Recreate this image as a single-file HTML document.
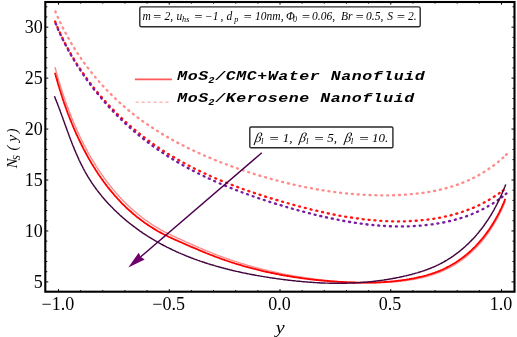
<!DOCTYPE html>
<html><head><meta charset="utf-8"><style>
html,body{margin:0;padding:0;background:#fff;}
body{width:517px;height:337px;overflow:hidden;}
svg{display:block;}
.ser{font-family:"Liberation Serif","DejaVu Serif",serif;}
.it{font-style:italic;}
.mono{font-family:"Liberation Mono","DejaVu Sans Mono",monospace;font-weight:bold;font-style:italic;}
</style></head><body>
<svg width="517" height="337" viewBox="0 0 517 337">
<rect width="517" height="337" fill="#fff"/>
<g fill="none" stroke-linecap="round">
<path d="M55.4 11.4L55.7 12.4M57.7 16.9L58.1 17.8M60.1 22.2L60.6 23.1M62.7 27.5L63.2 28.4M65.4 32.8L65.9 33.7M68.3 37.9L68.8 38.8M71.2 43.1L71.7 43.9M74.3 48.1L74.8 49.0M77.4 53.1L78.0 53.9M80.7 58.0L81.3 58.8M84.1 62.8L84.7 63.6M87.6 67.5L88.3 68.3M91.3 72.2L91.9 73.0M95.0 76.8L95.6 77.5M98.8 81.3L99.5 82.0M102.7 85.7L103.4 86.4M106.8 90.0L107.4 90.7M110.9 94.2L111.6 94.9M115.1 98.3L115.8 99.0M119.4 102.4L120.2 103.0M123.8 106.3L124.6 106.9M128.3 110.1L129.1 110.7M132.9 113.8L133.7 114.4M137.6 117.4L138.4 118.0M142.3 120.9L143.2 121.5M147.2 124.3L148.0 124.9M152.1 127.6L152.9 128.1M157.0 130.8L157.9 131.3M162.0 133.9L162.9 134.4M167.1 136.9L168.0 137.4M172.2 139.8L173.1 140.3M177.4 142.6L178.3 143.1M182.7 145.3L183.6 145.8M187.9 148.0L188.8 148.4M193.3 150.5L194.2 151.0M198.6 153.0L199.5 153.4M204.0 155.4L204.9 155.8M209.4 157.7L210.4 158.1M214.9 160.0L215.8 160.3M220.4 162.1L221.3 162.5M225.9 164.2L226.8 164.6M231.4 166.3L232.4 166.6M237.0 168.2L237.9 168.6M242.6 170.2L243.5 170.5M248.2 172.0L249.1 172.3M253.8 173.8L254.7 174.1M259.4 175.5L260.4 175.8M265.1 177.2L266.1 177.5M270.8 178.8L271.7 179.1M276.5 180.4L277.4 180.6M282.2 181.9L283.1 182.1M287.9 183.3L288.9 183.5M293.6 184.6L294.6 184.8M299.4 185.9L300.4 186.1M305.2 187.1L306.2 187.3M311.0 188.2L311.9 188.4M316.8 189.3L317.8 189.5M322.6 190.3L323.6 190.4M328.4 191.2L329.4 191.3M334.3 192.0L335.3 192.1M340.1 192.7L341.1 192.8M346.0 193.4L347.0 193.5M351.9 193.9L352.9 194.0M357.7 194.4L358.7 194.5M363.6 194.8L364.6 194.8M369.5 195.0L370.5 195.1M375.4 195.2L376.4 195.3M381.3 195.3L382.3 195.3M387.2 195.3L388.2 195.3M393.1 195.2L394.1 195.2M399.0 195.0L400.0 195.0M404.9 194.7L405.9 194.6M410.8 194.2L411.8 194.1M416.7 193.6L417.6 193.5M422.5 192.9L423.5 192.8M428.3 192.0L429.3 191.9M434.1 191.0L435.1 190.8M439.9 189.7L440.9 189.5M445.6 188.3L446.6 188.0M451.3 186.7L452.3 186.4M456.9 184.8L457.9 184.5M462.4 182.8L463.4 182.4M467.9 180.5L468.8 180.1M473.2 178.0L474.1 177.6M478.5 175.3L479.3 174.8M483.6 172.3L484.4 171.8M488.5 169.1L489.3 168.6M493.3 165.7L494.1 165.1M498.0 162.1L498.8 161.4M502.5 158.2L503.2 157.6M506.1 154.9L506.8 154.2" stroke="#ff8c8c" stroke-width="2.35"/>
<path d="M55.1 21.5L55.5 22.4M57.4 27.0L57.8 27.9M59.8 32.4L60.2 33.3M62.3 37.7L62.7 38.6M64.9 43.0L65.4 43.9M67.7 48.2L68.2 49.1M70.5 53.3L71.0 54.2M73.5 58.4L74.0 59.3M76.6 63.5L77.1 64.3M79.8 68.4L80.4 69.3M83.1 73.3L83.7 74.1M86.5 78.1L87.1 78.9M90.0 82.9L90.6 83.7M93.6 87.6L94.2 88.3M97.3 92.1L98.0 92.9M101.1 96.7L101.8 97.4M105.0 101.1L105.7 101.8M109.0 105.4L109.7 106.2M113.1 109.7L113.8 110.4M117.2 113.9L117.9 114.6M121.5 118.0L122.2 118.7M125.8 122.0L126.5 122.7M130.2 125.9L131.0 126.6M134.7 129.8L135.5 130.4M139.3 133.5L140.0 134.1M143.9 137.1L144.7 137.8M148.6 140.7L149.4 141.3M153.4 144.1L154.2 144.7M158.3 147.5L159.1 148.0M163.2 150.7L164.0 151.3M168.2 153.9L169.0 154.4M173.2 156.9L174.1 157.4M178.3 159.9L179.2 160.4M183.5 162.8L184.4 163.2M188.7 165.5L189.6 166.0M193.9 168.2L194.8 168.7M199.2 170.8L200.1 171.3M204.6 173.4L205.5 173.8M209.9 175.8L210.8 176.2M215.3 178.2L216.2 178.6M220.8 180.5L221.7 180.9M226.2 182.7L227.2 183.1M231.7 184.9L232.7 185.2M237.2 186.9L238.2 187.3M242.8 189.0L243.7 189.3M248.3 190.9L249.3 191.3M253.9 192.8L254.9 193.2M259.5 194.7L260.5 195.0M265.1 196.5L266.1 196.8M270.8 198.3L271.7 198.5M276.4 200.0L277.4 200.2M282.1 201.6L283.0 201.9M287.8 203.2L288.7 203.5M293.4 204.8L294.4 205.1M299.1 206.4L300.1 206.6M304.8 207.9L305.8 208.1M310.6 209.3L311.5 209.6M316.3 210.7L317.3 210.9M322.1 212.0L323.0 212.2M327.8 213.3L328.8 213.5M333.6 214.5L334.6 214.7M339.4 215.6L340.4 215.8M345.2 216.6L346.2 216.8M351.0 217.5L352.0 217.7M356.9 218.4L357.9 218.5M362.7 219.2L363.7 219.3M368.6 219.8L369.6 219.9M374.5 220.3L375.4 220.4M380.3 220.8L381.3 220.8M386.2 221.1L387.2 221.1M392.1 221.3L393.1 221.3M398.0 221.4L399.0 221.4M403.9 221.3L404.9 221.3M409.8 221.1L410.8 221.0M415.7 220.7L416.7 220.7M421.6 220.2L422.6 220.1M427.5 219.6L428.4 219.5M433.3 218.8L434.3 218.6M439.1 217.8L440.1 217.6M444.9 216.6L445.9 216.4M450.6 215.3L451.6 215.0M456.3 213.7L457.3 213.5M462.0 212.0L462.9 211.7M467.5 210.0L468.5 209.7M473.0 207.9L473.9 207.5M478.4 205.5L479.3 205.0M483.7 202.8L484.6 202.3M488.8 200.0L489.7 199.5M493.9 196.9L494.7 196.3M498.8 193.6L499.6 193.0M502.7 190.7L503.5 190.1" stroke="#ff1414" stroke-width="2.35"/>
<path d="M55.7 23.7L56.1 24.6M57.9 29.0L58.3 29.9M60.3 34.2L60.7 35.1M62.7 39.4L63.2 40.3M65.3 44.6L65.8 45.4M68.1 49.8L68.6 50.6M70.8 54.7L71.3 55.6M73.8 59.8L74.3 60.6M76.8 64.7L77.3 65.6M80.0 69.7L80.5 70.5M83.2 74.6L83.8 75.4M86.6 79.3L87.1 80.1M90.0 84.0L90.6 84.8M93.5 88.7L94.1 89.5M97.2 93.3L97.9 94.1M101.0 97.8L101.6 98.6M104.8 102.3L105.5 103.0M108.7 106.7L109.4 107.4M112.8 111.0L113.4 111.7M116.8 115.1L117.5 115.8M121.0 119.3L121.7 120.0M125.2 123.3L126.0 124.0M129.6 127.3L130.4 128.0M134.0 131.2L134.8 131.8M138.5 135.0L139.3 135.6M143.1 138.6L143.9 139.3M147.7 142.2L148.5 142.8M152.5 145.8L153.3 146.4M157.4 149.2L158.2 149.8M162.3 152.6L163.1 153.1M167.2 155.8L168.1 156.4M172.3 159.0L173.1 159.5M177.3 162.0L178.2 162.6M182.5 165.0L183.4 165.5M187.7 167.9L188.6 168.4M192.9 170.7L193.8 171.1M198.2 173.4L199.1 173.8M203.6 176.0L204.5 176.5M208.8 178.5L209.8 178.9M214.2 181.0L215.1 181.4M219.7 183.4L220.6 183.8M225.1 185.7L226.1 186.1M230.6 187.9L231.6 188.3M236.1 190.1L237.0 190.4M241.6 192.2L242.5 192.5M247.1 194.2L248.0 194.5M252.7 196.2L253.6 196.5M258.2 198.1L259.2 198.4M263.8 199.9L264.7 200.2M269.4 201.7L270.3 202.1M275.0 203.5L276.0 203.8M280.6 205.2L281.6 205.5M286.3 206.9L287.2 207.2M291.9 208.5L292.8 208.8M297.5 210.1L298.5 210.4M303.2 211.6L304.2 211.9M308.9 213.1L309.9 213.4M314.6 214.6L315.6 214.8M320.3 216.0L321.3 216.2M326.0 217.3L327.0 217.5M331.8 218.5L332.8 218.7M337.6 219.7L338.5 219.9M343.3 220.8L344.3 221.0M349.1 221.8L350.1 222.0M354.9 222.8L355.9 222.9M360.7 223.6L361.7 223.7M366.5 224.3L367.5 224.5M372.4 225.0L373.4 225.1M378.2 225.5L379.2 225.6M384.0 225.9L385.0 226.0M389.9 226.2L390.9 226.2M395.9 226.4L396.9 226.4M401.9 226.4L402.9 226.4M407.8 226.3L408.8 226.3M413.8 226.1L414.8 226.0M419.7 225.7L420.7 225.6M425.6 225.1L426.6 225.0M431.6 224.4L432.6 224.3M437.4 223.5L438.4 223.4M443.3 222.5L444.3 222.3M449.1 221.2L450.0 221.0M454.8 219.8L455.8 219.5M460.5 218.2L461.5 217.9M466.1 216.3L467.1 216.0M471.7 214.2L472.6 213.8M477.1 211.9L478.0 211.5M482.5 209.3L483.4 208.9M487.7 206.5L488.5 206.0M492.8 203.5L493.6 202.9M497.7 200.2L498.5 199.6M501.7 197.3L502.5 196.7M505.7 194.1L506.5 193.4" stroke="#7a1aa0" stroke-width="2.35"/>
<path d="M55.0 67.1L55.2 68.0L55.5 69.0L55.8 70.0L56.0 70.9L56.3 71.9L56.6 72.9L56.8 73.9L57.1 74.8L57.4 75.8L57.7 76.8L57.9 77.7L58.2 78.7L58.5 79.7L58.8 80.6L59.1 81.6L59.4 82.6L59.7 83.5L60.0 84.5L60.3 85.5L60.6 86.4L60.9 87.4L61.2 88.3L61.5 89.3L61.8 90.3L62.1 91.2L62.4 92.2L62.7 93.1L63.0 94.1L63.3 95.1L63.7 96.0L64.0 97.0L64.3 97.9L64.6 98.9L65.0 99.8L65.3 100.8L65.6 101.7L66.0 102.7L66.3 103.6L66.6 104.6L67.0 105.5L67.3 106.5L67.7 107.4L68.0 108.4L68.4 109.3L68.8 110.3L69.1 111.2L69.5 112.2L69.8 113.1L70.2 114.0L70.6 115.0L70.9 115.9L71.3 116.8L71.7 117.8L72.1 118.7L72.5 119.7L72.8 120.6L73.2 121.5L73.6 122.5L74.0 123.4L74.4 124.3L74.8 125.2L75.2 126.2L75.6 127.1L76.0 128.0L76.4 128.9L76.8 129.9L77.3 130.8L77.7 131.7L78.1 132.6L78.5 133.5L79.0 134.5L79.4 135.4L79.8 136.3L80.3 137.2L80.7 138.1L81.1 139.0L81.6 139.9L82.0 140.8L82.5 141.7L82.9 142.7L83.4 143.6L83.8 144.5L84.3 145.4L84.8 146.3L85.2 147.2L85.7 148.0L86.2 148.9L86.7 149.8L87.2 150.7L87.6 151.6L88.1 152.5L88.6 153.4L89.1 154.3L89.6 155.2L90.1 156.0L90.6 156.9L91.1 157.8L91.6 158.7L92.1 159.5L92.7 160.4L93.2 161.3L93.7 162.1L94.2 163.0L94.8 163.9L95.3 164.7L95.8 165.6L96.4 166.4L96.9 167.3L97.5 168.2L98.0 169.0L98.6 169.8L99.1 170.7L99.7 171.5L100.3 172.4L100.8 173.2L101.4 174.0L102.0 174.9L102.6 175.7L103.2 176.5L103.7 177.4L104.3 178.2L104.9 179.0L105.5 179.8L106.1 180.6L106.7 181.4L107.3 182.2L108.0 183.0L108.6 183.8L109.2 184.6L109.8 185.4L110.5 186.2L111.1 187.0L111.7 187.8L112.4 188.6L113.0 189.4L113.7 190.1L114.3 190.9L115.0 191.7L115.6 192.5L116.3 193.2L117.0 194.0L117.6 194.7L118.3 195.5L119.0 196.2L119.7 197.0L120.4 197.7L121.0 198.5L121.7 199.2L122.4 199.9L123.1 200.6L123.9 201.4L124.6 202.1L125.3 202.8L126.0 203.5L126.7 204.2L127.5 204.9L128.2 205.6L128.9 206.3L129.7 207.0L130.4 207.7L131.2 208.4L131.9 209.1L132.7 209.7L133.4 210.4L134.2 211.1L135.0 211.7L135.7 212.4L136.5 213.0L137.3 213.7L138.1 214.3L138.9 215.0L139.7 215.6L140.5 216.2L141.3 216.8L142.1 217.5L142.9 218.1L143.7 218.7L144.5 219.3L145.3 219.9L146.2 220.5L147.0 221.1L147.8 221.7L148.7 222.2L149.5 222.8L150.3 223.4L151.2 223.9L152.0 224.5L152.9 225.1L153.7 225.6L154.6 226.1L155.4 226.7L156.3 227.2L157.1 227.7L158.0 228.2L158.9 228.7L159.7 229.2L160.6 229.7L161.5 230.2L162.4 230.6L163.2 231.1L164.1 231.6L165.0 232.0L165.9 232.5L166.8 232.9L167.7 233.4L168.6 233.8L169.4 234.3L170.3 234.7L171.2 235.1L172.1 235.6L173.0 236.0L173.9 236.4L174.8 236.8L175.7 237.2L176.6 237.7L177.5 238.1L178.4 238.5L179.4 238.9L180.3 239.3L181.2 239.7L182.1 240.1L183.0 240.5L183.9 240.9L184.8 241.4L185.7 241.8L186.7 242.2L187.6 242.6L188.5 243.0L189.4 243.4L190.3 243.8L191.2 244.2L192.2 244.6L193.1 245.0L194.0 245.4L194.9 245.8L195.8 246.2L196.8 246.6L197.7 247.0L198.6 247.4L199.5 247.8L200.5 248.2L201.4 248.6L202.3 249.0L203.2 249.4L204.2 249.8L205.1 250.2L206.0 250.6L207.0 250.9L207.9 251.3L208.8 251.7L209.8 252.1L210.7 252.5L211.6 252.9L212.6 253.2L213.5 253.6L214.4 254.0L215.4 254.3L216.3 254.7L217.2 255.1L218.2 255.4L219.1 255.8L220.1 256.1L221.0 256.5L221.9 256.8L222.9 257.2L223.8 257.5L224.8 257.9L225.7 258.2L226.7 258.5L227.6 258.9L228.6 259.2L229.5 259.5L230.5 259.9L231.4 260.2L232.4 260.5L233.3 260.8L234.3 261.1L235.2 261.4L236.2 261.7L237.1 262.1L238.1 262.4L239.0 262.7L240.0 263.0L240.9 263.3L241.9 263.6L242.8 263.8L243.8 264.1L244.8 264.4L245.7 264.7L246.7 265.0L247.7 265.3L248.6 265.6L249.6 265.8L250.5 266.1L251.5 266.4L252.5 266.7L253.4 266.9L254.4 267.2L255.4 267.5L256.3 267.7L257.3 268.0L258.3 268.2L259.3 268.5L260.2 268.7L261.2 269.0L262.2 269.2L263.1 269.5L264.1 269.7L265.1 269.9L266.1 270.2L267.0 270.4L268.0 270.7L269.0 270.9L270.0 271.1L271.0 271.3L271.9 271.6L272.9 271.8L273.9 272.0L274.9 272.2L275.9 272.4L276.8 272.6L277.8 272.8L278.8 273.1L279.8 273.3L280.8 273.5L281.8 273.7L282.8 273.9L283.7 274.1L284.7 274.2L285.7 274.4L286.7 274.6L287.7 274.8L288.7 275.0L289.7 275.2L290.7 275.4L291.7 275.5L292.6 275.7L293.6 275.9L294.6 276.1L295.6 276.2L296.6 276.4L297.6 276.6L298.6 276.7L299.6 276.9L300.6 277.0L301.6 277.2L302.6 277.3L303.6 277.5L304.6 277.6L305.6 277.8L306.6 277.9L307.5 278.1L308.5 278.2L309.5 278.4L310.5 278.5L311.5 278.6L312.5 278.8L313.5 278.9L314.5 279.0L315.5 279.1L316.5 279.3L317.5 279.4L318.5 279.5L319.5 279.6L320.5 279.7L321.5 279.8L322.5 280.0L323.5 280.1L324.5 280.2L325.5 280.3L326.5 280.4L327.5 280.5L328.5 280.6L329.5 280.7L330.5 280.8L331.5 280.9L332.5 281.0L333.5 281.1L334.5 281.1L335.5 281.2L336.5 281.3L337.5 281.4L338.5 281.5L339.5 281.6L340.5 281.6L341.5 281.7L342.5 281.8L343.5 281.9L344.5 281.9L345.5 282.0L346.5 282.1L347.5 282.1L348.5 282.2L349.5 282.2L350.5 282.3L351.5 282.3L352.5 282.4L353.5 282.4L354.5 282.5L355.5 282.5L356.5 282.6L357.5 282.6L358.5 282.6L359.5 282.7L360.5 282.7L361.5 282.7L362.5 282.8L363.5 282.8L364.5 282.8L365.5 282.8L366.5 282.8L367.5 282.8L368.5 282.8L369.5 282.8L370.5 282.8L371.5 282.8L372.5 282.8L373.5 282.8L374.5 282.8L375.5 282.8L376.5 282.8L377.5 282.8L378.5 282.7L379.5 282.7L380.5 282.7L381.5 282.7L382.5 282.6L383.5 282.6L384.4 282.5L385.4 282.5L386.4 282.4L387.4 282.4L388.4 282.3L389.4 282.2L390.4 282.2L391.4 282.1L392.4 282.0L393.4 282.0L394.3 281.9L395.3 281.8L396.3 281.7L397.3 281.6L398.3 281.5L399.3 281.4L400.3 281.3L401.3 281.2L402.2 281.1L403.2 280.9L404.2 280.8L405.2 280.7L406.2 280.5L407.1 280.4L408.1 280.2L409.1 280.1L410.1 279.9L411.1 279.8L412.0 279.6L413.0 279.5L414.0 279.3L415.0 279.1L416.0 278.9L416.9 278.7L417.9 278.5L418.9 278.3L419.8 278.1L420.8 277.9L421.8 277.7L422.7 277.5L423.7 277.2L424.7 277.0L425.6 276.8L426.6 276.5L427.5 276.2L428.5 276.0L429.4 275.7L430.4 275.4L431.3 275.1L432.3 274.8L433.2 274.5L434.2 274.2L435.1 273.9L436.0 273.6L437.0 273.2L437.9 272.9L438.8 272.5L439.7 272.2L440.6 271.8L441.6 271.4L442.5 271.0L443.4 270.6L444.3 270.2L445.2 269.8L446.1 269.4L447.0 268.9L447.9 268.5L448.7 268.0L449.6 267.6L450.5 267.1L451.4 266.6L452.2 266.1L453.1 265.6L454.0 265.1L454.8 264.6L455.7 264.1L456.5 263.5L457.4 263.0L458.2 262.5L459.0 261.9L459.8 261.4L460.7 260.8L461.5 260.2L462.3 259.6L463.1 259.0L463.9 258.4L464.7 257.8L465.5 257.2L466.3 256.6L467.0 256.0L467.8 255.3L468.6 254.7L469.3 254.0L470.1 253.4L470.8 252.7L471.6 252.0L472.3 251.3L473.0 250.7L473.7 250.0L474.4 249.3L475.2 248.6L475.9 247.8L476.6 247.1L477.2 246.4L477.9 245.7L478.6 244.9L479.3 244.2L479.9 243.4L480.6 242.7L481.2 241.9L481.9 241.2L482.5 240.4L483.2 239.6L483.8 238.8L484.4 238.0L485.0 237.3L485.6 236.5L486.2 235.7L486.8 234.9L487.4 234.0L488.0 233.2L488.6 232.4L489.2 231.6L489.7 230.8L490.3 229.9L490.8 229.1L491.4 228.3L491.9 227.4L492.5 226.6L493.0 225.7L493.5 224.9L494.0 224.0L494.5 223.2L495.0 222.3L495.5 221.5L496.0 220.6L496.5 219.7L497.0 218.9L497.5 218.0L497.9 217.1L498.4 216.3L498.9 215.4L499.3 214.5L499.8 213.6L500.2 212.7L500.6 211.9L501.1 211.0L501.5 210.1L501.9 209.2L502.3 208.3L502.7 207.4L503.1 206.5L503.5 205.6L503.9 204.7L504.2 203.9L504.6 203.0L505.0 202.1L505.3 201.2" stroke="#ff8a8a" stroke-width="1.4" stroke-linecap="butt"/>
<path d="M55.0 72.8L55.2 73.8L55.5 74.8L55.8 75.7L56.0 76.7L56.3 77.7L56.6 78.6L56.8 79.6L57.1 80.5L57.4 81.5L57.7 82.5L57.9 83.4L58.2 84.4L58.5 85.3L58.8 86.3L59.1 87.3L59.4 88.2L59.7 89.2L60.0 90.1L60.3 91.1L60.6 92.0L60.9 93.0L61.2 93.9L61.5 94.9L61.8 95.8L62.1 96.8L62.4 97.7L62.7 98.7L63.0 99.6L63.3 100.6L63.7 101.5L64.0 102.5L64.3 103.4L64.6 104.4L65.0 105.3L65.3 106.2L65.6 107.2L66.0 108.1L66.3 109.1L66.6 110.0L67.0 110.9L67.3 111.9L67.7 112.8L68.0 113.8L68.4 114.7L68.8 115.6L69.1 116.6L69.5 117.5L69.8 118.4L70.2 119.3L70.6 120.3L70.9 121.2L71.3 122.1L71.7 123.0L72.1 124.0L72.5 124.9L72.8 125.8L73.2 126.7L73.6 127.7L74.0 128.6L74.4 129.5L74.8 130.4L75.2 131.3L75.6 132.2L76.0 133.1L76.4 134.1L76.8 135.0L77.3 135.9L77.7 136.8L78.1 137.7L78.5 138.6L79.0 139.5L79.4 140.4L79.8 141.3L80.3 142.2L80.7 143.1L81.1 144.0L81.6 144.9L82.0 145.8L82.5 146.7L82.9 147.6L83.4 148.5L83.8 149.4L84.3 150.2L84.8 151.1L85.2 152.0L85.7 152.9L86.2 153.8L86.7 154.7L87.2 155.5L87.6 156.4L88.1 157.3L88.6 158.2L89.1 159.0L89.6 159.9L90.1 160.8L90.6 161.6L91.1 162.5L91.6 163.4L92.1 164.2L92.7 165.1L93.2 165.9L93.7 166.8L94.2 167.6L94.8 168.5L95.3 169.3L95.8 170.2L96.4 171.0L96.9 171.8L97.5 172.7L98.0 173.5L98.6 174.4L99.1 175.2L99.7 176.0L100.3 176.8L100.8 177.7L101.4 178.5L102.0 179.3L102.6 180.1L103.2 180.9L103.7 181.7L104.3 182.5L104.9 183.3L105.5 184.1L106.1 184.9L106.7 185.7L107.3 186.5L108.0 187.3L108.6 188.1L109.2 188.9L109.8 189.6L110.5 190.4L111.1 191.2L111.7 192.0L112.4 192.7L113.0 193.5L113.7 194.2L114.3 195.0L115.0 195.8L115.6 196.5L116.3 197.2L117.0 198.0L117.6 198.7L118.3 199.5L119.0 200.2L119.7 200.9L120.4 201.6L121.0 202.4L121.7 203.1L122.4 203.8L123.1 204.5L123.9 205.2L124.6 205.9L125.3 206.6L126.0 207.3L126.7 208.0L127.5 208.7L128.2 209.3L128.9 210.0L129.7 210.7L130.4 211.3L131.2 212.0L131.9 212.7L132.7 213.3L133.4 214.0L134.2 214.6L135.0 215.3L135.7 215.9L136.5 216.5L137.3 217.2L138.1 217.8L138.9 218.4L139.7 219.0L140.5 219.6L141.3 220.2L142.1 220.8L142.9 221.4L143.7 222.0L144.5 222.6L145.3 223.2L146.2 223.7L147.0 224.3L147.8 224.9L148.7 225.4L149.5 226.0L150.3 226.5L151.2 227.0L152.0 227.6L152.9 228.1L153.7 228.6L154.6 229.1L155.4 229.7L156.3 230.2L157.1 230.7L158.0 231.2L158.9 231.7L159.7 232.1L160.6 232.6L161.5 233.1L162.4 233.5L163.2 234.0L164.1 234.5L165.0 234.9L165.9 235.4L166.8 235.8L167.7 236.2L168.6 236.7L169.4 237.1L170.3 237.5L171.2 237.9L172.1 238.4L173.0 238.8L173.9 239.2L174.8 239.6L175.7 240.0L176.6 240.4L177.5 240.8L178.4 241.2L179.4 241.6L180.3 242.0L181.2 242.4L182.1 242.8L183.0 243.2L183.9 243.6L184.8 244.0L185.7 244.4L186.7 244.8L187.6 245.2L188.5 245.6L189.4 246.0L190.3 246.4L191.2 246.8L192.2 247.2L193.1 247.6L194.0 247.9L194.9 248.3L195.8 248.7L196.8 249.1L197.7 249.5L198.6 249.9L199.5 250.3L200.5 250.7L201.4 251.1L202.3 251.4L203.2 251.8L204.2 252.2L205.1 252.6L206.0 253.0L207.0 253.3L207.9 253.7L208.8 254.1L209.8 254.5L210.7 254.8L211.6 255.2L212.6 255.5L213.5 255.9L214.4 256.3L215.4 256.6L216.3 257.0L217.2 257.3L218.2 257.7L219.1 258.0L220.1 258.4L221.0 258.7L221.9 259.1L222.9 259.4L223.8 259.7L224.8 260.1L225.7 260.4L226.7 260.7L227.6 261.0L228.6 261.3L229.5 261.7L230.5 262.0L231.4 262.3L232.4 262.6L233.3 262.9L234.3 263.2L235.2 263.5L236.2 263.8L237.1 264.1L238.1 264.4L239.0 264.7L240.0 265.0L240.9 265.2L241.9 265.5L242.8 265.8L243.8 266.1L244.8 266.4L245.7 266.6L246.7 266.9L247.7 267.2L248.6 267.4L249.6 267.7L250.5 267.9L251.5 268.2L252.5 268.4L253.4 268.7L254.4 269.0L255.4 269.2L256.3 269.4L257.3 269.7L258.3 269.9L259.3 270.2L260.2 270.4L261.2 270.6L262.2 270.9L263.1 271.1L264.1 271.3L265.1 271.5L266.1 271.8L267.0 272.0L268.0 272.2L269.0 272.4L270.0 272.6L271.0 272.8L271.9 273.0L272.9 273.2L273.9 273.4L274.9 273.6L275.9 273.8L276.8 274.0L277.8 274.2L278.8 274.4L279.8 274.6L280.8 274.8L281.8 275.0L282.8 275.1L283.7 275.3L284.7 275.5L285.7 275.7L286.7 275.8L287.7 276.0L288.7 276.2L289.7 276.3L290.7 276.5L291.7 276.7L292.6 276.8L293.6 277.0L294.6 277.1L295.6 277.3L296.6 277.4L297.6 277.6L298.6 277.7L299.6 277.9L300.6 278.0L301.6 278.2L302.6 278.3L303.6 278.4L304.6 278.6L305.6 278.7L306.6 278.8L307.5 278.9L308.5 279.1L309.5 279.2L310.5 279.3L311.5 279.4L312.5 279.5L313.5 279.7L314.5 279.8L315.5 279.9L316.5 280.0L317.5 280.1L318.5 280.2L319.5 280.3L320.5 280.4L321.5 280.5L322.5 280.6L323.5 280.7L324.5 280.8L325.5 280.9L326.5 280.9L327.5 281.0L328.5 281.1L329.5 281.2L330.5 281.3L331.5 281.3L332.5 281.4L333.5 281.5L334.5 281.6L335.5 281.6L336.5 281.7L337.5 281.8L338.5 281.8L339.5 281.9L340.5 281.9L341.5 282.0L342.5 282.0L343.5 282.1L344.5 282.2L345.5 282.2L346.5 282.2L347.5 282.3L348.5 282.3L349.5 282.4L350.5 282.4L351.5 282.4L352.5 282.5L353.5 282.5L354.5 282.5L355.5 282.6L356.5 282.6L357.5 282.6L358.5 282.6L359.5 282.6L360.5 282.6L361.5 282.6L362.5 282.7L363.5 282.7L364.5 282.7L365.5 282.7L366.5 282.6L367.5 282.6L368.5 282.6L369.5 282.6L370.5 282.6L371.5 282.6L372.5 282.6L373.5 282.5L374.5 282.5L375.5 282.5L376.5 282.4L377.5 282.4L378.5 282.3L379.5 282.3L380.5 282.2L381.5 282.2L382.5 282.1L383.5 282.1L384.4 282.0L385.4 281.9L386.4 281.9L387.4 281.8L388.4 281.7L389.4 281.6L390.4 281.6L391.4 281.5L392.4 281.4L393.4 281.3L394.3 281.2L395.3 281.1L396.3 281.0L397.3 280.8L398.3 280.7L399.3 280.6L400.3 280.5L401.3 280.4L402.2 280.2L403.2 280.1L404.2 279.9L405.2 279.8L406.2 279.6L407.1 279.5L408.1 279.3L409.1 279.2L410.1 279.0L411.1 278.8L412.0 278.6L413.0 278.5L414.0 278.3L415.0 278.1L416.0 277.9L416.9 277.7L417.9 277.5L418.9 277.2L419.8 277.0L420.8 276.8L421.8 276.6L422.7 276.3L423.7 276.1L424.7 275.8L425.6 275.6L426.6 275.3L427.5 275.0L428.5 274.7L429.4 274.5L430.4 274.2L431.3 273.9L432.3 273.5L433.2 273.2L434.2 272.9L435.1 272.6L436.0 272.2L437.0 271.9L437.9 271.5L438.8 271.1L439.7 270.8L440.6 270.4L441.6 270.0L442.5 269.6L443.4 269.2L444.3 268.7L445.2 268.3L446.1 267.9L447.0 267.4L447.9 266.9L448.7 266.5L449.6 266.0L450.5 265.5L451.4 265.0L452.2 264.5L453.1 264.0L454.0 263.5L454.8 263.0L455.7 262.4L456.5 261.9L457.4 261.3L458.2 260.8L459.0 260.2L459.8 259.6L460.7 259.1L461.5 258.5L462.3 257.9L463.1 257.3L463.9 256.7L464.7 256.0L465.5 255.4L466.3 254.8L467.0 254.1L467.8 253.5L468.6 252.8L469.3 252.2L470.1 251.5L470.8 250.8L471.6 250.1L472.3 249.4L473.0 248.7L473.7 248.0L474.4 247.3L475.2 246.6L475.9 245.9L476.6 245.2L477.2 244.4L477.9 243.7L478.6 242.9L479.3 242.2L479.9 241.4L480.6 240.7L481.2 239.9L481.9 239.1L482.5 238.3L483.2 237.6L483.8 236.8L484.4 236.0L485.0 235.2L485.6 234.4L486.2 233.6L486.8 232.7L487.4 231.9L488.0 231.1L488.6 230.3L489.2 229.4L489.7 228.6L490.3 227.8L490.8 226.9L491.4 226.1L491.9 225.2L492.5 224.4L493.0 223.5L493.5 222.7L494.0 221.8L494.5 221.0L495.0 220.1L495.5 219.2L496.0 218.4L496.5 217.5L497.0 216.6L497.5 215.7L497.9 214.9L498.4 214.0L498.9 213.1L499.3 212.2L499.8 211.3L500.2 210.4L500.6 209.5L501.1 208.6L501.5 207.8L501.9 206.9L502.3 206.0L502.7 205.1L503.1 204.2L503.5 203.3L503.9 202.4L504.2 201.5L504.6 200.6L505.0 199.7L505.3 198.8" stroke="#ff0000" stroke-width="1.8" stroke-linecap="butt"/>
<path d="M54.4 96.2L54.8 97.1L55.2 98.0L55.5 99.0L55.9 99.9L56.3 100.8L56.6 101.7L57.0 102.6L57.4 103.6L57.7 104.5L58.1 105.4L58.4 106.3L58.8 107.3L59.1 108.2L59.5 109.1L59.8 110.1L60.2 111.0L60.5 111.9L60.9 112.9L61.2 113.8L61.5 114.8L61.9 115.7L62.2 116.6L62.6 117.6L62.9 118.5L63.2 119.5L63.6 120.4L63.9 121.3L64.3 122.3L64.6 123.2L64.9 124.2L65.3 125.1L65.6 126.1L66.0 127.0L66.3 127.9L66.6 128.9L67.0 129.8L67.3 130.8L67.7 131.7L68.0 132.6L68.4 133.6L68.7 134.5L69.1 135.5L69.4 136.4L69.8 137.4L70.1 138.3L70.5 139.2L70.8 140.2L71.2 141.1L71.6 142.0L71.9 143.0L72.3 143.9L72.6 144.8L73.0 145.8L73.4 146.7L73.8 147.6L74.1 148.6L74.5 149.5L74.9 150.4L75.3 151.3L75.7 152.2L76.1 153.2L76.5 154.1L76.9 155.0L77.3 155.9L77.7 156.8L78.1 157.7L78.5 158.6L78.9 159.6L79.3 160.5L79.8 161.4L80.2 162.3L80.6 163.2L81.1 164.1L81.5 164.9L82.0 165.8L82.4 166.7L82.9 167.6L83.3 168.5L83.8 169.4L84.3 170.3L84.8 171.1L85.2 172.0L85.7 172.9L86.2 173.7L86.7 174.6L87.2 175.5L87.7 176.3L88.2 177.2L88.8 178.0L89.3 178.9L89.8 179.7L90.4 180.5L90.9 181.4L91.5 182.2L92.0 183.1L92.6 183.9L93.1 184.7L93.7 185.5L94.3 186.3L94.9 187.2L95.5 188.0L96.0 188.8L96.6 189.6L97.2 190.4L97.9 191.2L98.5 192.0L99.1 192.8L99.7 193.5L100.3 194.3L101.0 195.1L101.6 195.9L102.2 196.7L102.9 197.4L103.5 198.2L104.2 199.0L104.8 199.7L105.5 200.5L106.2 201.2L106.8 202.0L107.5 202.7L108.2 203.4L108.9 204.2L109.6 204.9L110.3 205.6L111.0 206.4L111.7 207.1L112.4 207.8L113.1 208.5L113.8 209.2L114.5 209.9L115.2 210.6L116.0 211.3L116.7 212.0L117.4 212.7L118.2 213.4L118.9 214.1L119.6 214.8L120.4 215.5L121.1 216.1L121.9 216.8L122.6 217.5L123.4 218.1L124.2 218.8L124.9 219.4L125.7 220.1L126.5 220.7L127.2 221.4L128.0 222.0L128.8 222.6L129.6 223.3L130.4 223.9L131.2 224.5L132.0 225.1L132.8 225.7L133.6 226.3L134.4 226.9L135.2 227.5L136.0 228.1L136.8 228.7L137.6 229.3L138.4 229.9L139.2 230.5L140.0 231.1L140.8 231.6L141.7 232.2L142.5 232.8L143.3 233.3L144.2 233.9L145.0 234.4L145.8 235.0L146.7 235.5L147.5 236.0L148.3 236.6L149.2 237.1L150.0 237.6L150.9 238.1L151.7 238.7L152.6 239.2L153.4 239.7L154.3 240.2L155.1 240.7L156.0 241.2L156.8 241.7L157.7 242.2L158.6 242.6L159.4 243.1L160.3 243.6L161.2 244.1L162.0 244.5L162.9 245.0L163.8 245.5L164.7 245.9L165.5 246.4L166.4 246.8L167.3 247.3L168.2 247.7L169.1 248.2L170.0 248.6L170.9 249.0L171.8 249.5L172.6 249.9L173.5 250.3L174.4 250.7L175.3 251.1L176.2 251.6L177.1 252.0L178.0 252.4L178.9 252.8L179.9 253.2L180.8 253.6L181.7 253.9L182.6 254.3L183.5 254.7L184.4 255.1L185.3 255.5L186.2 255.9L187.2 256.2L188.1 256.6L189.0 257.0L189.9 257.3L190.9 257.7L191.8 258.0L192.7 258.4L193.6 258.7L194.6 259.1L195.5 259.4L196.4 259.7L197.4 260.1L198.3 260.4L199.3 260.7L200.2 261.1L201.1 261.4L202.1 261.7L203.0 262.0L204.0 262.3L204.9 262.7L205.9 263.0L206.8 263.3L207.7 263.6L208.7 263.9L209.7 264.2L210.6 264.5L211.6 264.8L212.5 265.0L213.5 265.3L214.4 265.6L215.4 265.9L216.3 266.2L217.3 266.4L218.3 266.7L219.2 267.0L220.2 267.2L221.2 267.5L222.1 267.8L223.1 268.0L224.1 268.3L225.0 268.5L226.0 268.8L227.0 269.0L227.9 269.3L228.9 269.5L229.9 269.8L230.9 270.0L231.8 270.2L232.8 270.5L233.8 270.7L234.8 270.9L235.7 271.2L236.7 271.4L237.7 271.6L238.7 271.8L239.7 272.0L240.6 272.3L241.6 272.5L242.6 272.7L243.6 272.9L244.6 273.1L245.6 273.3L246.5 273.5L247.5 273.7L248.5 273.9L249.5 274.1L250.5 274.3L251.5 274.5L252.5 274.7L253.5 274.8L254.5 275.0L255.4 275.2L256.4 275.4L257.4 275.6L258.4 275.7L259.4 275.9L260.4 276.1L261.4 276.3L262.4 276.4L263.4 276.6L264.4 276.8L265.4 276.9L266.4 277.1L267.4 277.2L268.4 277.4L269.4 277.6L270.4 277.7L271.4 277.9L272.4 278.0L273.4 278.2L274.4 278.3L275.3 278.4L276.3 278.6L277.3 278.7L278.3 278.9L279.3 279.0L280.3 279.1L281.3 279.3L282.3 279.4L283.3 279.5L284.3 279.7L285.3 279.8L286.3 279.9L287.3 280.0L288.4 280.2L289.4 280.3L290.4 280.4L291.4 280.5L292.4 280.6L293.4 280.7L294.4 280.8L295.4 280.9L296.4 281.1L297.4 281.2L298.4 281.3L299.4 281.3L300.4 281.4L301.4 281.5L302.4 281.6L303.4 281.7L304.4 281.8L305.4 281.9L306.4 282.0L307.4 282.0L308.4 282.1L309.4 282.2L310.4 282.3L311.4 282.3L312.4 282.4L313.4 282.5L314.4 282.5L315.4 282.6L316.4 282.6L317.4 282.7L318.4 282.8L319.4 282.8L320.4 282.9L321.4 282.9L322.4 282.9L323.4 283.0L324.4 283.0L325.4 283.1L326.4 283.1L327.4 283.1L328.4 283.1L329.4 283.2L330.4 283.2L331.4 283.2L332.4 283.2L333.4 283.2L334.4 283.2L335.4 283.3L336.4 283.3L337.4 283.3L338.4 283.3L339.4 283.3L340.4 283.3L341.4 283.2L342.4 283.2L343.4 283.2L344.4 283.2L345.4 283.2L346.4 283.2L347.4 283.1L348.4 283.1L349.4 283.1L350.4 283.0L351.4 283.0L352.4 283.0L353.4 282.9L354.4 282.9L355.4 282.8L356.4 282.8L357.4 282.7L358.4 282.7L359.4 282.6L360.4 282.5L361.3 282.5L362.3 282.4L363.3 282.3L364.3 282.2L365.3 282.2L366.3 282.1L367.3 282.0L368.3 281.9L369.3 281.8L370.3 281.7L371.2 281.6L372.2 281.5L373.2 281.4L374.2 281.3L375.2 281.2L376.2 281.0L377.2 280.9L378.1 280.8L379.1 280.7L380.1 280.5L381.1 280.4L382.1 280.3L383.0 280.1L384.0 280.0L385.0 279.8L386.0 279.7L387.0 279.5L387.9 279.4L388.9 279.2L389.9 279.0L390.9 278.9L391.8 278.7L392.8 278.5L393.8 278.3L394.8 278.2L395.7 278.0L396.7 277.8L397.7 277.6L398.6 277.4L399.6 277.2L400.6 277.0L401.6 276.8L402.5 276.6L403.5 276.3L404.5 276.1L405.4 275.9L406.4 275.7L407.3 275.4L408.3 275.2L409.3 274.9L410.2 274.7L411.2 274.5L412.2 274.2L413.1 273.9L414.1 273.7L415.0 273.4L416.0 273.1L416.9 272.9L417.9 272.6L418.8 272.3L419.8 272.0L420.7 271.7L421.7 271.4L422.6 271.1L423.6 270.8L424.5 270.5L425.4 270.1L426.4 269.8L427.3 269.5L428.2 269.1L429.2 268.8L430.1 268.4L431.0 268.0L431.9 267.6L432.9 267.3L433.8 266.9L434.7 266.5L435.6 266.1L436.5 265.6L437.4 265.2L438.3 264.8L439.2 264.3L440.1 263.9L441.0 263.4L441.9 263.0L442.8 262.5L443.6 262.0L444.5 261.5L445.4 261.0L446.3 260.5L447.1 260.0L448.0 259.4L448.8 258.9L449.7 258.4L450.5 257.8L451.4 257.3L452.2 256.7L453.1 256.1L453.9 255.5L454.7 254.9L455.5 254.3L456.4 253.7L457.2 253.1L458.0 252.5L458.8 251.9L459.6 251.3L460.4 250.6L461.1 250.0L461.9 249.3L462.7 248.7L463.5 248.0L464.2 247.4L465.0 246.7L465.7 246.0L466.5 245.3L467.2 244.6L468.0 243.9L468.7 243.2L469.4 242.5L470.1 241.8L470.8 241.1L471.6 240.4L472.2 239.6L472.9 238.9L473.6 238.2L474.3 237.4L475.0 236.7L475.6 235.9L476.3 235.2L477.0 234.4L477.6 233.6L478.3 232.9L478.9 232.1L479.5 231.3L480.1 230.5L480.8 229.8L481.4 229.0L482.0 228.2L482.6 227.4L483.2 226.6L483.8 225.8L484.4 225.0L484.9 224.1L485.5 223.3L486.1 222.5L486.6 221.7L487.2 220.8L487.8 220.0L488.3 219.2L488.8 218.3L489.4 217.5L489.9 216.7L490.4 215.8L491.0 215.0L491.5 214.1L492.0 213.2L492.5 212.4L493.0 211.5L493.5 210.6L494.0 209.8L494.4 208.9L494.9 208.0L495.4 207.2L495.9 206.3L496.3 205.4L496.8 204.5L497.2 203.6L497.7 202.7L498.1 201.8L498.6 201.0L499.0 200.1L499.4 199.2L499.9 198.3L500.3 197.4L500.7 196.5L501.1 195.6L501.5 194.7L501.9 193.7L502.3 192.8L502.7 191.9L503.1 191.0L503.5 190.1L503.9 189.2L504.2 188.3L504.6 187.4L505.0 186.4L505.3 185.5L505.7 184.6L505.7 184.5" stroke="#44063f" stroke-width="1.45" stroke-linecap="butt"/>
</g>
<g stroke="#000" fill="none">
<path d="M58.50 291.7v-2.6M58.50 2v2.6M80.65 291.7v-1.6M80.65 2v1.6M102.80 291.7v-1.6M102.80 2v1.6M124.95 291.7v-1.6M124.95 2v1.6M147.10 291.7v-1.6M147.10 2v1.6M169.25 291.7v-2.6M169.25 2v2.6M191.40 291.7v-1.6M191.40 2v1.6M213.55 291.7v-1.6M213.55 2v1.6M235.70 291.7v-1.6M235.70 2v1.6M257.85 291.7v-1.6M257.85 2v1.6M280.00 291.7v-2.6M280.00 2v2.6M302.15 291.7v-1.6M302.15 2v1.6M324.30 291.7v-1.6M324.30 2v1.6M346.45 291.7v-1.6M346.45 2v1.6M368.60 291.7v-1.6M368.60 2v1.6M390.75 291.7v-2.6M390.75 2v2.6M412.90 291.7v-1.6M412.90 2v1.6M435.05 291.7v-1.6M435.05 2v1.6M457.20 291.7v-1.6M457.20 2v1.6M479.35 291.7v-1.6M479.35 2v1.6M501.50 291.7v-2.6M501.50 2v2.6M45.3 281.90h3.0M514.5 281.90h-3.0M45.3 271.71h2.0M514.5 271.71h-2.0M45.3 261.52h2.0M514.5 261.52h-2.0M45.3 251.33h2.0M514.5 251.33h-2.0M45.3 241.14h2.0M514.5 241.14h-2.0M45.3 230.95h3.0M514.5 230.95h-3.0M45.3 220.76h2.0M514.5 220.76h-2.0M45.3 210.57h2.0M514.5 210.57h-2.0M45.3 200.38h2.0M514.5 200.38h-2.0M45.3 190.19h2.0M514.5 190.19h-2.0M45.3 180.00h3.0M514.5 180.00h-3.0M45.3 169.81h2.0M514.5 169.81h-2.0M45.3 159.62h2.0M514.5 159.62h-2.0M45.3 149.43h2.0M514.5 149.43h-2.0M45.3 139.24h2.0M514.5 139.24h-2.0M45.3 129.05h3.0M514.5 129.05h-3.0M45.3 118.86h2.0M514.5 118.86h-2.0M45.3 108.67h2.0M514.5 108.67h-2.0M45.3 98.48h2.0M514.5 98.48h-2.0M45.3 88.29h2.0M514.5 88.29h-2.0M45.3 78.10h3.0M514.5 78.10h-3.0M45.3 67.91h2.0M514.5 67.91h-2.0M45.3 57.72h2.0M514.5 57.72h-2.0M45.3 47.53h2.0M514.5 47.53h-2.0M45.3 37.34h2.0M514.5 37.34h-2.0M45.3 27.15h3.0M514.5 27.15h-3.0M45.3 16.96h2.0M514.5 16.96h-2.0M45.3 6.77h2.0M514.5 6.77h-2.0" stroke-width="1"/>
<rect x="45.3" y="2" width="469.2" height="289.7" stroke-width="2.1"/>
</g>
<g class="ser" font-size="18" fill="#000"><text x="42.7" y="287.9" text-anchor="end">5</text><text x="42.7" y="236.9" text-anchor="end">10</text><text x="42.7" y="186.0" text-anchor="end">15</text><text x="42.7" y="135.0" text-anchor="end">20</text><text x="42.7" y="84.1" text-anchor="end">25</text><text x="42.7" y="33.1" text-anchor="end">30</text><text x="57.9" y="310.0" text-anchor="middle">−1.0</text><text x="168.7" y="310.0" text-anchor="middle">−0.5</text><text x="279.4" y="310.0" text-anchor="middle">0.0</text><text x="390.1" y="310.0" text-anchor="middle">0.5</text><text x="500.9" y="310.0" text-anchor="middle">1.0</text></g>
<text class="ser it" font-size="16.5" transform="translate(275.8,332.8) scale(1.22,1)">y</text>
<text class="ser it" font-size="14.5" transform="translate(16.8,0) rotate(-90)"><tspan x="-168.2">N</tspan><tspan x="-160.3" y="2.8" font-size="10">S</tspan><tspan x="-150.4" y="0">(</tspan><tspan x="-141.8" font-size="15.5">y</tspan><tspan x="-133.3">)</tspan></text>
<!-- top legend box -->
<rect x="139.8" y="6.9" width="280.4" height="19.8" rx="1.5" fill="#fff" stroke="#2a2a2a" stroke-width="1.4"/>
<g fill="#000"><text class="ser it" x="142.5" y="20.2" font-size="11.5">m</text><text class="ser it" font-size="11.5" text-anchor="middle" transform="translate(157.0 20.7) scale(1.25 1)">=</text><text class="ser it" x="164.4" y="20.2" font-size="11.5">2,</text><text class="ser it" x="176.4" y="20.2" font-size="11.5">u</text><text class="ser it" x="182.1" y="22.0" font-size="8.2">hs</text><text class="ser it" font-size="11.5" text-anchor="middle" transform="translate(198.3 20.7) scale(1.25 1)">=</text><text class="ser it" x="204.9" y="20.2" font-size="11.5">−1</text><text class="ser it" x="220.6" y="20.2" font-size="11.5">,</text><text class="ser it" x="226.5" y="20.2" font-size="11.5">d</text><text class="ser it" x="234.3" y="22.0" font-size="8.2">p</text><text class="ser it" font-size="11.5" text-anchor="middle" transform="translate(247.7 20.7) scale(1.25 1)">=</text><text class="ser it" x="255.1" y="20.2" font-size="11.5">10nm,</text><text class="ser it" x="286.1" y="20.2" font-size="11.5">Φ</text><text class="ser it" x="292.9" y="22.0" font-size="8.2">0</text><text class="ser it" font-size="11.5" text-anchor="middle" transform="translate(305.8 20.7) scale(1.25 1)">=</text><text class="ser it" x="312.0" y="20.2" font-size="11.5">0.06,</text><text class="ser it" x="341.0" y="20.2" font-size="11.5">Br</text><text class="ser it" font-size="11.5" text-anchor="middle" transform="translate(359.6 20.7) scale(1.25 1)">=</text><text class="ser it" x="366.0" y="20.2" font-size="11.5">0.5,</text><text class="ser it" x="387.2" y="20.2" font-size="11.5">S</text><text class="ser it" font-size="11.5" text-anchor="middle" transform="translate(400.9 20.7) scale(1.25 1)">=</text><text class="ser it" x="408.1" y="20.2" font-size="11.5">2.</text></g>
<!-- legend -->
<path d="M134.9 79.3H171.9" stroke="#ff5858" stroke-width="1.7"/>
<path d="M135.6 102.2H169" stroke="#ffbcbc" stroke-width="1.6" stroke-dasharray="3.2 2.75"/>
<g class="mono" font-size="13.6" letter-spacing="0.45" transform="scale(1.22 1)">
<text x="145.33" y="80.1">MoS</text><text x="170.66" y="82.6" font-size="8.5" letter-spacing="0">2</text><text x="176.48" y="80.1">/CMC+Water Nanofluid</text>
<text x="145.33" y="102.3">MoS</text><text x="170.66" y="104.8" font-size="8.5" letter-spacing="0">2</text><text x="176.48" y="102.3">/Kerosene Nanofluid</text>
</g>
<!-- beta box -->
<rect x="249.8" y="127" width="143.1" height="20.7" rx="1.2" fill="#fff" stroke="#2a2a2a" stroke-width="1.4"/>
<g fill="#000"><text class="ser it" font-size="13.5" transform="translate(254.3 142.3) skewX(-10.0)">β</text><text class="ser it" x="261.1" y="143.9" font-size="9.0">l</text><text class="ser it" font-size="13.0" text-anchor="middle" transform="translate(274.0 142.9) scale(1.30 1)">=</text><text class="ser it" x="282.8" y="142.3" font-size="13.0">1,</text><text class="ser it" font-size="13.5" transform="translate(298.7 142.3) skewX(-10.0)">β</text><text class="ser it" x="305.9" y="143.9" font-size="9.0">l</text><text class="ser it" font-size="13.0" text-anchor="middle" transform="translate(318.9 142.9) scale(1.30 1)">=</text><text class="ser it" x="327.2" y="142.3" font-size="13.0">5,</text><text class="ser it" font-size="13.5" transform="translate(344.0 142.3) skewX(-10.0)">β</text><text class="ser it" x="350.8" y="143.9" font-size="9.0">l</text><text class="ser it" font-size="13.0" text-anchor="middle" transform="translate(363.9 142.9) scale(1.30 1)">=</text><text class="ser it" x="371.9" y="142.3" font-size="13.0">10.</text></g>
<!-- arrow -->
<path d="M261.8 152.8L140.5 257" stroke="#4c004e" stroke-width="1.4" fill="none"/>
<path d="M128.3 267.5L138.7 252.7L140.8 256.9L144.7 259.5Z" fill="#6c006c"/>
</svg>
</body></html>
